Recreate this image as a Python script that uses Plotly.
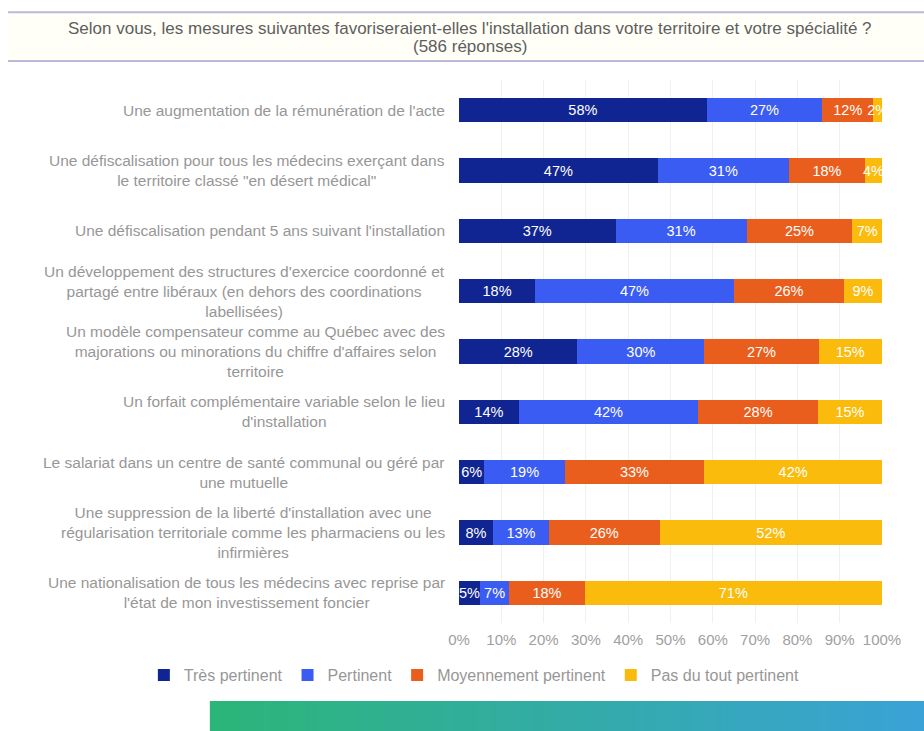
import plotly.graph_objects as go

# Survey measures (top to bottom) and answer shares in percent
categories = [
    "Une augmentation de la rémunération de l'acte",
    "Une défiscalisation pour tous les médecins exerçant dans<br>le territoire classé \"en désert médical\"",
    "Une défiscalisation pendant 5 ans suivant l'installation",
    "Un développement des structures d'exercice coordonné et<br>partagé entre libéraux (en dehors des coordinations<br>labellisées)",
    "Un modèle compensateur comme au Québec avec des<br>majorations ou minorations du chiffre d'affaires selon<br>territoire",
    "Un forfait complémentaire variable selon le lieu<br>d'installation",
    "Le salariat dans un centre de santé communal ou géré par<br>une mutuelle",
    "Une suppression de la liberté d'installation avec une<br>régularisation territoriale comme les pharmaciens ou les<br>infirmières",
    "Une nationalisation de tous les médecins avec reprise par<br>l'état de mon investissement foncier",
]

tres_pertinent = [58, 47, 37, 18, 28, 14, 6, 8, 5]
pertinent = [27, 31, 31, 47, 30, 42, 19, 13, 7]
moyennement = [12, 18, 25, 26, 27, 28, 33, 26, 18]
pas_du_tout = [2, 4, 7, 9, 15, 15, 42, 52, 71]

series_names = ["Très pertinent", "Pertinent", "Moyennement pertinent", "Pas du tout pertinent"]
series_values = [tres_pertinent, pertinent, moyennement, pas_du_tout]
series_colors = ["#112592", "#3b5cf2", "#ea5e1d", "#fbbb0c"]

x_ticks = list(range(0, 101, 10))

title_lines = [
    "Selon vous, les mesures suivantes favoriseraient-elles l'installation dans votre territoire et votre spécialité ?",
    "(586 réponses)",
]

FONT = "Liberation Sans, Arial, sans-serif"

fig = go.Figure()
for name, vals, col in zip(series_names, series_values, series_colors):
    fig.add_trace(go.Bar(
        y=categories,
        x=vals,
        name=name,
        orientation="h",
        marker=dict(color=col, line=dict(width=0)),
        text=[f"{v}%" for v in vals],
        textposition="inside",
        insidetextanchor="middle",
        textangle=0,
        textfont=dict(color="white", size=14.5, family=FONT),
        hoverinfo="skip",
    ))

# Category labels: centred multi-line text right-aligned against the axis
for cat in categories:
    fig.add_annotation(
        x=-0.028, xref="paper", y=cat, yref="y",
        text=cat, showarrow=False, xanchor="right", yanchor="middle",
        align="center", font=dict(size=15.5, color="#979797", family=FONT),
    )

# Header band with lavender rules
fig.add_shape(type="rect", xref="paper", yref="paper",
              x0=-1.066, x1=1.10, y0=1.035, y1=1.125,
              fillcolor="#fffef7", line=dict(width=0), layer="below")
for yy in (1.125, 1.035):
    fig.add_shape(type="line", xref="paper", yref="paper",
                  x0=-1.066, x1=1.10, y0=yy, y1=yy,
                  line=dict(color="#bbb8da", width=2))

for line, yy in zip(title_lines, (1.094, 1.0626)):
    fig.add_annotation(
        x=0.026, xref="paper", y=yy, yref="paper",
        text=line, showarrow=False, xanchor="center", yanchor="middle",
        font=dict(size=17, color="#5e5e5e", family=FONT),
    )

# Gradient strip along the bottom edge
n_steps = 120
x_start, x_end = -0.589, 1.10
c0 = (0x2c, 0xb5, 0x78)
c1 = (0x3a, 0xa2, 0xd6)
for i in range(n_steps):
    t = i / (n_steps - 1)
    r = round(c0[0] + (c1[0] - c0[0]) * t)
    g = round(c0[1] + (c1[1] - c0[1]) * t)
    b = round(c0[2] + (c1[2] - c0[2]) * t)
    xa = x_start + (x_end - x_start) * i / n_steps
    xb = x_start + (x_end - x_start) * (i + 1) / n_steps + 0.002
    fig.add_shape(type="rect", xref="paper", yref="paper",
                  x0=xa, x1=xb, y0=-0.21, y1=-0.1436,
                  fillcolor=f"rgb({r},{g},{b})", line=dict(width=0))

fig.update_layout(
    width=924, height=731,
    margin=dict(l=459, r=42, t=80, b=108),
    paper_bgcolor="white", plot_bgcolor="white",
    barmode="stack", barnorm="percent", bargap=0.6,
    uniformtext=dict(minsize=14.5, mode="show"),
    font=dict(family=FONT, color="#979797"),
    showlegend=True,
    legend=dict(
        orientation="h", x=-0.745, xanchor="left", y=-0.096, yanchor="middle",
        font=dict(size=16, color="#979797", family=FONT),
        itemwidth=30, traceorder="normal", bgcolor="rgba(0,0,0,0)",
    ),
    xaxis=dict(
        range=[0, 100], tickvals=x_ticks, ticktext=[f"{v}%" for v in x_ticks],
        showgrid=True, gridcolor="#f0f0f0", gridwidth=1, zeroline=False,
        showline=False, ticks="", tickfont=dict(size=15, color="#a0a0a0", family=FONT),
        ticklabelstandoff=6, fixedrange=True,
    ),
    yaxis=dict(
        autorange="reversed", showticklabels=False, showgrid=False,
        zeroline=False, showline=False, ticks="", fixedrange=True,
    ),
)

fig.write_html("out.html")
